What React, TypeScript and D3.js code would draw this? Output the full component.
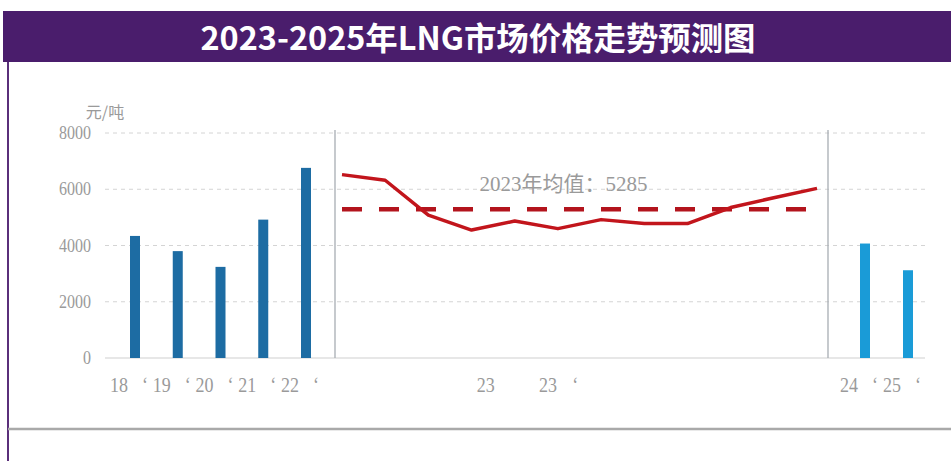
import React from 'react'
import * as d3 from 'd3'

// historical yearly averages (元/吨)
const barYears = ['18', '19', '20', '21', '22']
const barValues = [4340, 3800, 3240, 4920, 6760]

// 2023 monthly prices
const months = ['1', '2', '3', '4', '5', '6', '7', '8', '9', '10', '11', '12']
const lineValues = [6520, 6320, 5080, 4550, 4870, 4600, 4920, 4780, 4780, 5350, 5700, 6030]
const meanValue = 5285

// forecast
const forecastYears = ['24', '25']
const forecastValues = [4070, 3120]

const yTicks = [0, 2000, 4000, 6000, 8000]
const midLabels = ['23', '23', '‘']

const W = 951
const H = 461
const serif = '"Liberation Serif", "Noto Sans CJK SC", serif'
const grey = '#9a9a9a'

const App = () => {
  const y = d3.scaleLinear().domain([0, 8000]).range([358, 133])
  const xBar = d3.scalePoint().domain(barYears).range([135, 306])
  const xMonth = d3.scaleLinear().domain([0, months.length - 1]).range([342, 817])
  const xFc = d3.scalePoint().domain(forecastYears).range([865, 908])

  const line = d3
    .line<number>()
    .x((_, i) => xMonth(i))
    .y(d => y(d))
    .curve(d3.curveLinear)

  const barW = 10
  const gridX0 = 105
  const gridX1 = 925
  const sepXs = [335, 828]
  const midAt = [3.33, 4.77, 5.4]

  // digits sit left of the bar, a stray quote mark right of it
  const xLabel = (x: number, t: string, key: string) => (
    <g key={key}>
      <text
        transform={`translate(${x - 16},392) scale(1,1.2)`}
        textAnchor="middle"
        fontFamily={serif}
        fontSize={18}
        fill={grey}
      >
        {t}
      </text>
      <text
        transform={`translate(${x + 10},392) scale(1,1.2)`}
        textAnchor="middle"
        fontFamily={serif}
        fontSize={18}
        fill={grey}
      >
        ‘
      </text>
    </g>
  )

  return (
    <svg width={W} height={H} style={{ position: 'absolute', left: 0, top: 0, background: '#fff' }}>
      {/* banner */}
      <rect x={3} y={11} width={W - 3} height={51} fill="#4a1d6c" />
      <text
        x={478}
        y={50}
        textAnchor="middle"
        fill="#fff"
        fontFamily='"Noto Sans CJK SC", sans-serif'
        fontWeight="bold"
        fontSize={32}
        textLength={555}
        lengthAdjust="spacingAndGlyphs"
      >
        2023-2025年LNG市场价格走势预测图
      </text>
      <line x1={8} x2={8} y1={62} y2={H} stroke="#5a2f7a" strokeWidth={2} />
      <line x1={8} x2={W} y1={429} y2={429} stroke="#a9a9a9" strokeWidth={2.5} />

      {/* unit */}
      <text x={105} y={118} textAnchor="middle" fontFamily='"Noto Sans CJK SC", sans-serif' fontSize={16} fill={grey}>
        元/吨
      </text>

      {/* grid */}
      {yTicks.map(t => (
        <g key={t}>
          {t > 0 ? (
            <line
              x1={gridX0}
              x2={gridX1}
              y1={y(t)}
              y2={y(t)}
              stroke="#d4d4d4"
              strokeWidth={1}
              strokeDasharray="4 4"
            />
          ) : (
            <line x1={gridX0} x2={gridX1} y1={y(t)} y2={y(t)} stroke="#d0d0d0" strokeWidth={1.2} />
          )}
          <text
            transform={`translate(91,${y(t) + 6}) scale(1,1.2)`}
            textAnchor="end"
            fontFamily={serif}
            fontSize={16}
            fill={grey}
          >
            {t}
          </text>
        </g>
      ))}

      {/* separators */}
      {sepXs.map(sx => (
        <line key={sx} x1={sx} x2={sx} y1={130} y2={y(0)} stroke="#a8adb3" strokeWidth={1.3} />
      ))}

      {/* bars */}
      {barValues.map((v, i) => (
        <rect
          key={barYears[i]}
          x={xBar(barYears[i]) - barW / 2}
          y={y(v)}
          width={barW}
          height={y(0) - y(v)}
          fill="#1d6ca3"
        />
      ))}
      {forecastValues.map((v, i) => (
        <rect
          key={forecastYears[i]}
          x={xFc(forecastYears[i]) - barW / 2}
          y={y(v)}
          width={barW}
          height={y(0) - y(v)}
          fill="#1a9bd7"
        />
      ))}

      {/* 2023 mean */}
      <line
        x1={xMonth(0)}
        x2={xMonth(months.length - 1) - 9}
        y1={y(meanValue)}
        y2={y(meanValue)}
        stroke="#b3141d"
        strokeWidth={4.5}
        strokeDasharray="20 17"
      />
      <path d={line(lineValues) || ''} fill="none" stroke="#c2151c" strokeWidth={3.5} strokeLinejoin="round" />
      <text
        x={(xMonth(0) + xMonth(months.length - 1)) / 2 - 16}
        y={y(6000) + 2}
        textAnchor="middle"
        fontFamily={serif}
        fontSize={21}
        fill={grey}
      >
        2023年均值：{meanValue}
      </text>

      {/* x labels */}
      {barYears.map(yr => xLabel(xBar(yr), yr, 'b' + yr))}
      {midLabels.map((t, i) => (
        <text
          key={'m' + i}
          transform={`translate(${xMonth(midAt[i])},392) scale(1,1.2)`}
          textAnchor="middle"
          fontFamily={serif}
          fontSize={18}
          fill={grey}
        >
          {t}
        </text>
      ))}
      {forecastYears.map(yr => xLabel(xFc(yr), yr, 'f' + yr))}
    </svg>
  )
}

export default App
